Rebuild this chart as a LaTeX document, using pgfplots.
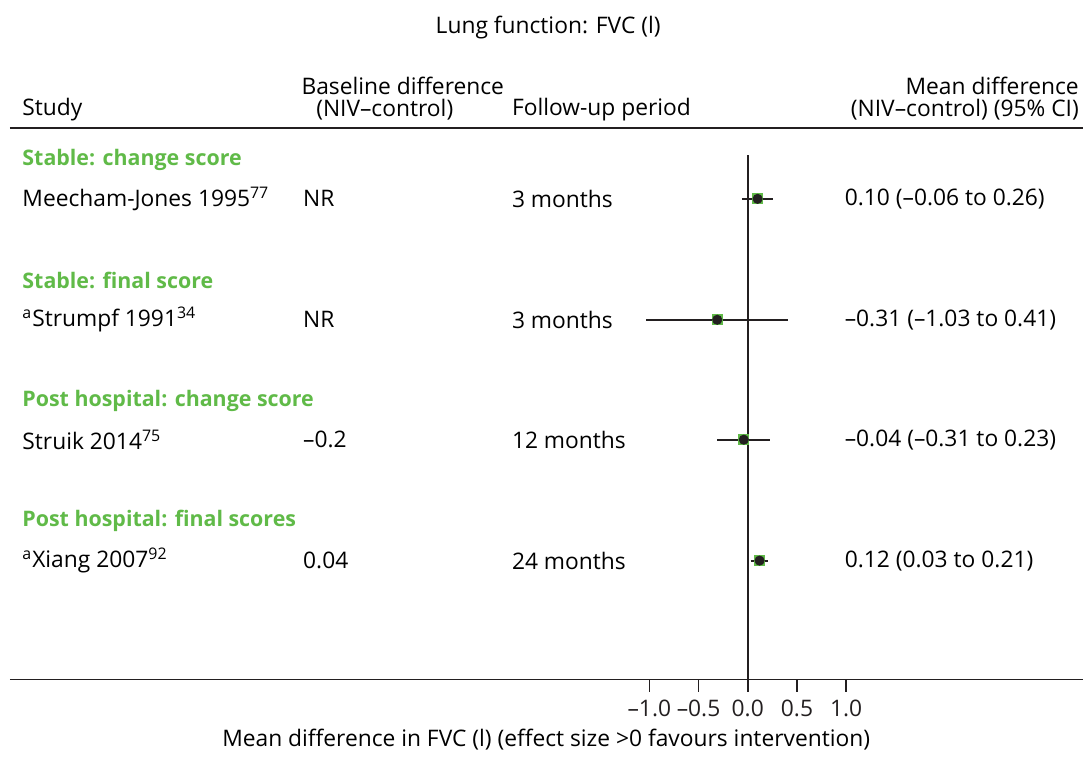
\documentclass[border=0pt]{standalone}
\usepackage{pgfplots}
\pgfplotsset{compat=1.18}
\usepackage{fontspec}
\setmainfont{Open Sans}
\definecolor{txt}{RGB}{35,31,32}
\definecolor{grp}{RGB}{96,186,72}

\begin{document}
\begin{tikzpicture}
\begin{axis}[
  scale only axis,
  width=537pt, height=340pt,
  xmin=-7.496, xmax=3.408,
  ymin=0, ymax=680,
  axis x line=bottom, axis y line=none,
  axis line style={-, line width=0.8pt, txt},
  xtick={-1,-0.5,0,0.5,1},
  xticklabels={–1.0,–0.5,0.0,0.5,1.0},
  tick align=outside,
  major tick length=6pt,
  tick style={line width=0.8pt, txt},
  xticklabel style={font=\fontsize{11.4}{13}\selectfont, text=txt, inner sep=1pt, yshift=-3pt},
  clip=false,
  font=\fontsize{11.4}{13}\selectfont,
  every node/.append style={text=txt},
]
% extend bounding box to full picture
\path (axis cs:-7.597,-71) -- (axis cs:3.408,680);

% title and header
\node at (axis cs:-2.028,652) {Lung function: FVC (l)};
\node[anchor=west, inner sep=0pt] at (axis cs:-7.373,570) {Study};
\node at (axis cs:-3.505,594) {Baseline difference};
\node at (axis cs:-3.688,570) {(NIV–control)};
\node[anchor=west, inner sep=0pt] at (axis cs:-2.399,570) {Follow-up period};
\node[anchor=east, inner sep=0pt] at (axis cs:3.367,594) {Mean difference};
\node[anchor=east, inner sep=0pt] at (axis cs:3.367,570) {(NIV–control) (95\% CI)};
\draw[line width=0.8pt, txt] (axis cs:-7.496,552) -- (axis cs:3.408,552);

% group headings
\begin{scope}[every node/.append style={anchor=west, inner sep=0pt, text=grp, font=\fontsize{10.7}{13}\selectfont\bfseries}]
\node at (axis cs:-7.373,520) {Stable: change score};
\node at (axis cs:-7.373,399) {Stable: final score};
\node at (axis cs:-7.373,279) {Post hospital: change score};
\node at (axis cs:-7.373,159) {Post hospital: final scores};
\end{scope}

% study rows
\begin{scope}[every node/.append style={anchor=west, inner sep=0pt}]
\node at (axis cs:-7.373,481) {Meecham-Jones 1995\textsuperscript{77}};
\node at (axis cs:-7.373,360) {\textsuperscript{a}Strumpf 1991\textsuperscript{34}};
\node at (axis cs:-7.373,240) {Struik 2014\textsuperscript{75}};
\node at (axis cs:-7.373,119) {\textsuperscript{a}Xiang 2007\textsuperscript{92}};

\node at (axis cs:-4.521,481) {NR};
\node at (axis cs:-4.521,360) {NR};
\node at (axis cs:-4.521,240) {–0.2};
\node at (axis cs:-4.521,119) {0.04};

\node at (axis cs:-2.399,481) {3 months};
\node at (axis cs:-2.399,360) {3 months};
\node at (axis cs:-2.399,240) {12 months};
\node at (axis cs:-2.399,119) {24 months};

\node at (axis cs:0.982,481) {0.10 (–0.06 to 0.26)};
\node at (axis cs:0.982,360) {–0.31 (–1.03 to 0.41)};
\node at (axis cs:0.982,240) {–0.04 (–0.31 to 0.23)};
\node at (axis cs:0.982,119) {0.12 (0.03 to 0.21)};
\end{scope}

% line of no effect
\addplot[txt, line width=0.8pt] coordinates {(0,0) (0,525)};

% confidence intervals
\addplot[txt, line width=1pt] coordinates {(-0.06,481) (0.26,481)};
\addplot[txt, line width=1pt] coordinates {(-1.03,360) (0.41,360)};
\addplot[txt, line width=1pt] coordinates {(-0.31,240) (0.23,240)};
\addplot[txt, line width=1pt] coordinates {(0.03,119) (0.21,119)};

% point estimates
\addplot[only marks, mark=square*, mark size=2.5pt, grp, mark options={draw=grp, fill=grp}]
  coordinates {(0.10,481) (-0.31,360) (-0.04,240) (0.12,119)};
\addplot[only marks, mark=*, mark size=2.3pt, txt, mark options={draw=txt, fill=txt}]
  coordinates {(0.10,481) (-0.31,360) (-0.04,240) (0.12,119)};

% x label
\node at (axis cs:-2.048,-60) {Mean difference in FVC (l) (effect size >0 favours intervention)};
\end{axis}
\end{tikzpicture}
\end{document}
